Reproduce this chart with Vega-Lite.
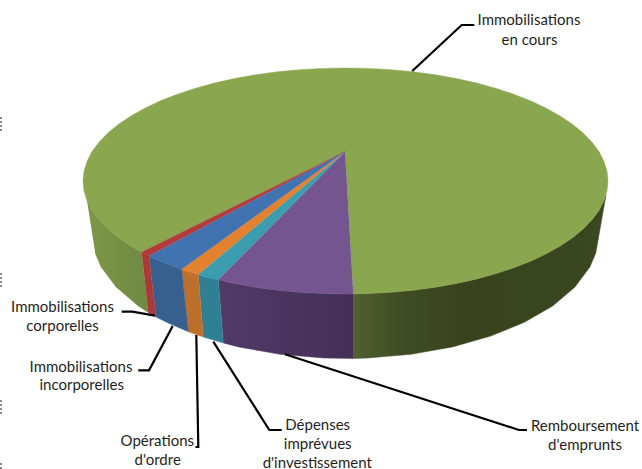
{"$schema":"https://vega.github.io/schema/vega-lite/v6.json","width":642,"height":469,"padding":0,"autosize":{"type":"none"},"background":"white","config":{"view":{"stroke":null}},
"datasets":{
"faces":[
{"face":"green-right-side","i":0,"x":353.3,"y":294},{"face":"green-right-side","i":1,"x":368.4,"y":293.6},{"face":"green-right-side","i":2,"x":391.1,"y":292.3},{"face":"green-right-side","i":3,"x":413.4,"y":290.2},{"face":"green-right-side","i":4,"x":435.3,"y":287.2},{"face":"green-right-side","i":5,"x":456.5,"y":283.4},{"face":"green-right-side","i":6,"x":476.8,"y":278.9},{"face":"green-right-side","i":7,"x":496.1,"y":273.6},{"face":"green-right-side","i":8,"x":514.2,"y":267.6},{"face":"green-right-side","i":9,"x":531.1,"y":260.9},{"face":"green-right-side","i":10,"x":546.6,"y":253.6},{"face":"green-right-side","i":11,"x":560.5,"y":245.8},{"face":"green-right-side","i":12,"x":572.8,"y":237.5},{"face":"green-right-side","i":13,"x":583.4,"y":228.8},{"face":"green-right-side","i":14,"x":592.2,"y":219.6},{"face":"green-right-side","i":15,"x":599.1,"y":210.2},{"face":"green-right-side","i":16,"x":604,"y":200.6},{"face":"green-right-side","i":17,"x":606,"y":195},{"face":"green-right-side","i":18,"x":595.8,"y":253},{"face":"green-right-side","i":19,"x":589.9,"y":267},{"face":"green-right-side","i":20,"x":574.8,"y":287.2},{"face":"green-right-side","i":21,"x":552.7,"y":305.9},{"face":"green-right-side","i":22,"x":524.4,"y":322.3},{"face":"green-right-side","i":23,"x":490.7,"y":336.1},{"face":"green-right-side","i":24,"x":452.5,"y":346.9},{"face":"green-right-side","i":25,"x":411,"y":354.3},{"face":"green-right-side","i":26,"x":367.5,"y":358},{"face":"green-right-side","i":27,"x":353.3,"y":358.4},
{"face":"green-left-side","i":0,"x":87,"y":200.6},{"face":"green-left-side","i":1,"x":91.9,"y":210.2},{"face":"green-left-side","i":2,"x":98.8,"y":219.6},{"face":"green-left-side","i":3,"x":107.6,"y":228.8},{"face":"green-left-side","i":4,"x":118.2,"y":237.5},{"face":"green-left-side","i":5,"x":130.5,"y":245.8},{"face":"green-left-side","i":6,"x":141.7,"y":252.2},{"face":"green-left-side","i":7,"x":148.3,"y":312.4},{"face":"green-left-side","i":8,"x":138.3,"y":305.9},{"face":"green-left-side","i":9,"x":116.3,"y":287.2},{"face":"green-left-side","i":10,"x":101.1,"y":267},{"face":"green-left-side","i":11,"x":95.2,"y":253},
{"face":"purple-side","i":0,"x":218.3,"y":279.8},{"face":"purple-side","i":1,"x":234.5,"y":283.4},{"face":"purple-side","i":2,"x":255.7,"y":287.2},{"face":"purple-side","i":3,"x":277.6,"y":290.2},{"face":"purple-side","i":4,"x":299.9,"y":292.3},{"face":"purple-side","i":5,"x":322.6,"y":293.6},{"face":"purple-side","i":6,"x":345.5,"y":294},{"face":"purple-side","i":7,"x":353.3,"y":294},{"face":"purple-side","i":8,"x":353.3,"y":358.4},{"face":"purple-side","i":9,"x":323.5,"y":358},{"face":"purple-side","i":10,"x":280,"y":354.3},{"face":"purple-side","i":11,"x":238.5,"y":346.9},{"face":"purple-side","i":12,"x":223.3,"y":342.9},
{"face":"teal-side","i":0,"x":198.3,"y":274.6},{"face":"teal-side","i":1,"x":208,"y":277.4},{"face":"teal-side","i":2,"x":218.3,"y":279.8},{"face":"teal-side","i":3,"x":223.3,"y":342.9},{"face":"teal-side","i":4,"x":203.3,"y":337},
{"face":"orange-side","i":0,"x":181.7,"y":269.3},{"face":"orange-side","i":1,"x":198.3,"y":274.6},{"face":"orange-side","i":2,"x":203.3,"y":337},{"face":"orange-side","i":3,"x":188.3,"y":331.7},
{"face":"blue-side","i":0,"x":149,"y":255.9},{"face":"blue-side","i":1,"x":159.9,"y":260.9},{"face":"blue-side","i":2,"x":176.8,"y":267.6},{"face":"blue-side","i":3,"x":181.7,"y":269.3},{"face":"blue-side","i":4,"x":188.3,"y":331.7},{"face":"blue-side","i":5,"x":166.6,"y":322.3},{"face":"blue-side","i":6,"x":156,"y":316.9},
{"face":"red-side","i":0,"x":141.7,"y":252.2},{"face":"red-side","i":1,"x":149,"y":255.9},{"face":"red-side","i":2,"x":156,"y":316.9},{"face":"red-side","i":3,"x":148.3,"y":312.4},
{"face":"green-top","i":0,"x":345,"y":151.7},{"face":"green-top","i":1,"x":353.3,"y":294},{"face":"green-top","i":2,"x":368.4,"y":293.6},{"face":"green-top","i":3,"x":391.1,"y":292.3},{"face":"green-top","i":4,"x":413.4,"y":290.2},{"face":"green-top","i":5,"x":435.3,"y":287.2},{"face":"green-top","i":6,"x":456.5,"y":283.4},{"face":"green-top","i":7,"x":476.8,"y":278.9},{"face":"green-top","i":8,"x":496.1,"y":273.6},{"face":"green-top","i":9,"x":514.2,"y":267.6},{"face":"green-top","i":10,"x":531.1,"y":260.9},{"face":"green-top","i":11,"x":546.6,"y":253.6},{"face":"green-top","i":12,"x":560.5,"y":245.8},{"face":"green-top","i":13,"x":572.8,"y":237.5},{"face":"green-top","i":14,"x":583.4,"y":228.8},{"face":"green-top","i":15,"x":592.2,"y":219.6},{"face":"green-top","i":16,"x":599.1,"y":210.2},{"face":"green-top","i":17,"x":604,"y":200.6},{"face":"green-top","i":18,"x":607,"y":190.8},{"face":"green-top","i":19,"x":608,"y":181},{"face":"green-top","i":20,"x":607,"y":171.2},{"face":"green-top","i":21,"x":604,"y":161.4},{"face":"green-top","i":22,"x":599.1,"y":151.8},{"face":"green-top","i":23,"x":592.2,"y":142.4},{"face":"green-top","i":24,"x":583.4,"y":133.2},{"face":"green-top","i":25,"x":572.8,"y":124.5},{"face":"green-top","i":26,"x":560.5,"y":116.2},{"face":"green-top","i":27,"x":546.6,"y":108.4},{"face":"green-top","i":28,"x":531.1,"y":101.1},{"face":"green-top","i":29,"x":514.2,"y":94.4},{"face":"green-top","i":30,"x":496.1,"y":88.4},{"face":"green-top","i":31,"x":476.8,"y":83.1},{"face":"green-top","i":32,"x":456.5,"y":78.6},{"face":"green-top","i":33,"x":435.3,"y":74.8},{"face":"green-top","i":34,"x":413.4,"y":71.8},{"face":"green-top","i":35,"x":391.1,"y":69.7},{"face":"green-top","i":36,"x":368.4,"y":68.4},{"face":"green-top","i":37,"x":345.5,"y":68},{"face":"green-top","i":38,"x":322.6,"y":68.4},{"face":"green-top","i":39,"x":299.9,"y":69.7},{"face":"green-top","i":40,"x":277.6,"y":71.8},{"face":"green-top","i":41,"x":255.7,"y":74.8},{"face":"green-top","i":42,"x":234.5,"y":78.6},{"face":"green-top","i":43,"x":214.3,"y":83.1},{"face":"green-top","i":44,"x":194.9,"y":88.4},{"face":"green-top","i":45,"x":176.8,"y":94.4},{"face":"green-top","i":46,"x":159.9,"y":101.1},{"face":"green-top","i":47,"x":144.4,"y":108.4},{"face":"green-top","i":48,"x":130.5,"y":116.2},{"face":"green-top","i":49,"x":118.2,"y":124.5},{"face":"green-top","i":50,"x":107.6,"y":133.2},{"face":"green-top","i":51,"x":98.8,"y":142.4},{"face":"green-top","i":52,"x":91.9,"y":151.8},{"face":"green-top","i":53,"x":87,"y":161.4},{"face":"green-top","i":54,"x":84,"y":171.2},{"face":"green-top","i":55,"x":83,"y":181},{"face":"green-top","i":56,"x":84,"y":190.8},{"face":"green-top","i":57,"x":87,"y":200.6},{"face":"green-top","i":58,"x":91.9,"y":210.2},{"face":"green-top","i":59,"x":98.8,"y":219.6},{"face":"green-top","i":60,"x":107.6,"y":228.8},{"face":"green-top","i":61,"x":118.2,"y":237.5},{"face":"green-top","i":62,"x":130.5,"y":245.8},{"face":"green-top","i":63,"x":141.7,"y":252.2},
{"face":"purple-top","i":0,"x":345,"y":151.7},{"face":"purple-top","i":1,"x":218.3,"y":279.8},{"face":"purple-top","i":2,"x":234.5,"y":283.4},{"face":"purple-top","i":3,"x":255.7,"y":287.2},{"face":"purple-top","i":4,"x":277.6,"y":290.2},{"face":"purple-top","i":5,"x":299.9,"y":292.3},{"face":"purple-top","i":6,"x":322.6,"y":293.6},{"face":"purple-top","i":7,"x":345.5,"y":294},{"face":"purple-top","i":8,"x":353.3,"y":294},
{"face":"teal-top","i":0,"x":345,"y":151.7},{"face":"teal-top","i":1,"x":198.3,"y":274.6},{"face":"teal-top","i":2,"x":208,"y":277.4},{"face":"teal-top","i":3,"x":218.3,"y":279.8},
{"face":"orange-top","i":0,"x":345,"y":151.7},{"face":"orange-top","i":1,"x":181.7,"y":269.3},{"face":"orange-top","i":2,"x":198.3,"y":274.6},
{"face":"blue-top","i":0,"x":345,"y":151.7},{"face":"blue-top","i":1,"x":149,"y":255.9},{"face":"blue-top","i":2,"x":159.9,"y":260.9},{"face":"blue-top","i":3,"x":176.8,"y":267.6},{"face":"blue-top","i":4,"x":181.7,"y":269.3},
{"face":"red-top","i":0,"x":345,"y":151.7},{"face":"red-top","i":1,"x":141.7,"y":252.2},{"face":"red-top","i":2,"x":149,"y":255.9}
],
"leaders":[
{"name":"Immobilisations en cours","i":0,"x":412.3,"y":71},{"name":"Immobilisations en cours","i":1,"x":461.7,"y":25},{"name":"Immobilisations en cours","i":2,"x":474.3,"y":25},
{"name":"Immobilisations corporelles","i":0,"x":121.7,"y":311.7},{"name":"Immobilisations corporelles","i":1,"x":132.3,"y":311.7},{"name":"Immobilisations corporelles","i":2,"x":155,"y":315.7},
{"name":"Immobilisations incorporelles","i":0,"x":138.3,"y":370.3},{"name":"Immobilisations incorporelles","i":1,"x":149,"y":370.3},{"name":"Immobilisations incorporelles","i":2,"x":172.7,"y":326},
{"name":"Opérations d'ordre","i":0,"x":196.3,"y":335},{"name":"Opérations d'ordre","i":1,"x":198.3,"y":447},{"name":"Opérations d'ordre","i":2,"x":195.5,"y":447},
{"name":"Dépenses imprévues d'investissement","i":0,"x":213.3,"y":341.7},{"name":"Dépenses imprévues d'investissement","i":1,"x":269.3,"y":430},{"name":"Dépenses imprévues d'investissement","i":2,"x":281.7,"y":430},
{"name":"Remboursement d'emprunts","i":0,"x":285,"y":354.3},{"name":"Remboursement d'emprunts","i":1,"x":519,"y":430},{"name":"Remboursement d'emprunts","i":2,"x":527,"y":430}
],
"specks":[
{"group":"a","i":0,"x":1,"y":117},{"group":"a","i":1,"x":1,"y":132},
{"group":"b","i":0,"x":1,"y":273},{"group":"b","i":1,"x":1,"y":288},
{"group":"c","i":0,"x":1,"y":400},{"group":"c","i":1,"x":1,"y":415},
{"group":"d","i":0,"x":1,"y":463},{"group":"d","i":1,"x":1,"y":469}
],
"labels":[
{"line":"Immobilisations","x":529,"y":20},{"line":"en cours","x":529.5,"y":39.5},
{"line":"Immobilisations","x":62.5,"y":306.7},{"line":"corporelles","x":62.5,"y":326},
{"line":"Immobilisations","x":81,"y":366.7},{"line":"incorporelles","x":81.7,"y":385},
{"line":"Opérations","x":157.3,"y":441},{"line":"d'ordre","x":157.7,"y":460},
{"line":"Dépenses","x":317.7,"y":425},{"line":"imprévues","x":317.7,"y":444.3},{"line":"d'investissement","x":317.3,"y":462.5},
{"line":"Remboursement","x":585,"y":426},{"line":"d'emprunts","x":585,"y":445}
]},
"encoding":{
"x":{"field":"x","type":"quantitative","scale":{"domain":[0,642]},"axis":null},
"y":{"field":"y","type":"quantitative","scale":{"domain":[469,0]},"axis":null}
},
"layer":[
{"data":{"name":"faces"},"transform":[{"filter":"datum.face==='green-right-side'"}],"mark":{"type":"line","fill":{"x1":0,"y1":0,"x2":1,"y2":0,"gradient":"linear","stops":[{"offset":0,"color":"#4f612e"},{"offset":0.18,"color":"#414d26"},{"offset":0.45,"color":"#38431e"},{"offset":1,"color":"#3a4720"}]},"stroke":"#3d4a22","strokeWidth":0.5},"encoding":{"order":{"field":"i","type":"quantitative"}}},
{"data":{"name":"faces"},"transform":[{"filter":"datum.face==='green-left-side'"}],"mark":{"type":"line","fill":{"x1":0,"y1":0,"x2":1,"y2":0,"gradient":"linear","stops":[{"offset":0,"color":"#7c9747"},{"offset":1,"color":"#6f8a42"}]},"stroke":"#76913f","strokeWidth":0.5},"encoding":{"order":{"field":"i","type":"quantitative"}}},
{"data":{"name":"faces"},"transform":[{"filter":"datum.face==='purple-side'"}],"mark":{"type":"line","fill":{"x1":0,"y1":0,"x2":1,"y2":0,"gradient":"linear","stops":[{"offset":0,"color":"#523a68"},{"offset":1,"color":"#442f56"}]},"stroke":"#4a3560","strokeWidth":0.5},"encoding":{"order":{"field":"i","type":"quantitative"}}},
{"data":{"name":"faces"},"transform":[{"filter":"datum.face!=='green-right-side' && datum.face!=='green-left-side' && datum.face!=='purple-side'"}],"mark":{"type":"line","strokeWidth":0.5},"encoding":{"order":{"field":"i","type":"quantitative"},"detail":{"field":"face"},
"fill":{"field":"face","type":"nominal","legend":null,"scale":{"domain":["teal-side","orange-side","blue-side","red-side","green-top","purple-top","teal-top","orange-top","blue-top","red-top"],"range":["#2f8093","#bd6f2c","#38608f","#a93a39","#8aa64f","#745590","#3c9db1","#e2812e","#4273b1","#b23c3b"]}},
"stroke":{"field":"face","type":"nominal","legend":null,"scale":{"domain":["teal-side","orange-side","blue-side","red-side","green-top","purple-top","teal-top","orange-top","blue-top","red-top"],"range":["#2f8093","#bd6f2c","#38608f","#a93a39","#8aa64f","#745590","#3c9db1","#e2812e","#4273b1","#b23c3b"]}}}},
{"data":{"name":"leaders"},"mark":{"type":"line","stroke":"#000000","strokeWidth":2.2},"encoding":{"detail":{"field":"name"},"order":{"field":"i","type":"quantitative"}}},
{"data":{"name":"specks"},"mark":{"type":"line","stroke":"#8a8a8a","strokeWidth":2,"strokeDash":[2,2]},"encoding":{"detail":{"field":"group"},"order":{"field":"i","type":"quantitative"}}},
{"data":{"name":"labels"},"mark":{"type":"text","font":"Lato","fontSize":15,"fill":"#1f1f1f","align":"center","baseline":"middle"},"encoding":{"text":{"field":"line"}}}
]}
